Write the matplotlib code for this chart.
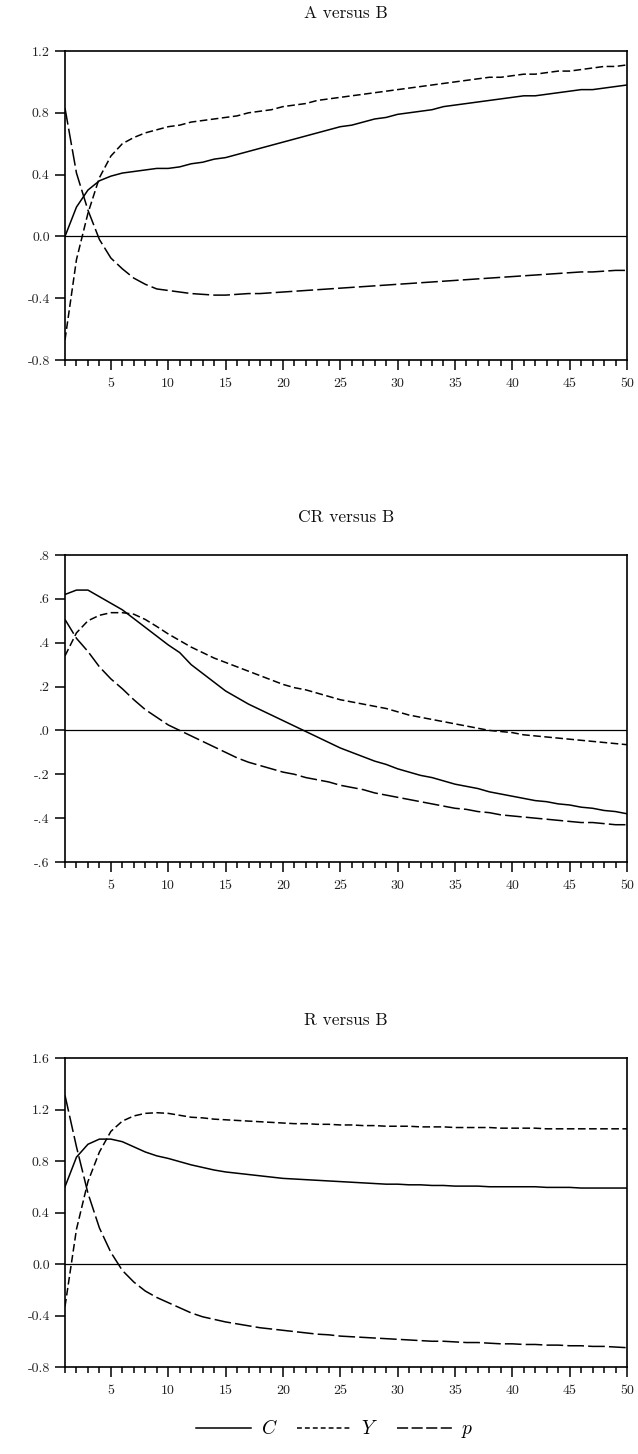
import matplotlib
matplotlib.use("Agg")
import matplotlib.pyplot as plt
from matplotlib.ticker import FixedLocator, MultipleLocator
from matplotlib.lines import Line2D

plt.rcParams['font.family'] = ['cmr10', 'DejaVu Serif']
plt.rcParams['mathtext.fontset'] = 'cm'
plt.rcParams['axes.unicode_minus'] = False
plt.rcParams['lines.scale_dashes'] = False

periods = list(range(1, 51))

titles = ["A versus B", "CR versus B", "R versus B"]

# Panel 1: A versus B
C1 = [0.00, 0.19, 0.30, 0.36, 0.39, 0.41, 0.42, 0.43, 0.44, 0.44,
      0.45, 0.47, 0.48, 0.50, 0.51, 0.53, 0.55, 0.57, 0.59, 0.61,
      0.63, 0.65, 0.67, 0.69, 0.71, 0.72, 0.74, 0.76, 0.77, 0.79,
      0.80, 0.81, 0.82, 0.84, 0.85, 0.86, 0.87, 0.88, 0.89, 0.90,
      0.91, 0.91, 0.92, 0.93, 0.94, 0.95, 0.95, 0.96, 0.97, 0.98]
Y1 = [-0.67, -0.15, 0.15, 0.38, 0.52, 0.60, 0.64, 0.67, 0.69, 0.71,
      0.72, 0.74, 0.75, 0.76, 0.77, 0.78, 0.80, 0.81, 0.82, 0.84,
      0.85, 0.86, 0.88, 0.89, 0.90, 0.91, 0.92, 0.93, 0.94, 0.95,
      0.96, 0.97, 0.98, 0.99, 1.00, 1.01, 1.02, 1.03, 1.03, 1.04,
      1.05, 1.05, 1.06, 1.07, 1.07, 1.08, 1.09, 1.10, 1.10, 1.11]
p1 = [0.83, 0.41, 0.17, -0.02, -0.14, -0.21, -0.27, -0.31, -0.34, -0.35,
      -0.36, -0.37, -0.375, -0.38, -0.38, -0.375, -0.37, -0.37, -0.365, -0.36,
      -0.355, -0.35, -0.345, -0.34, -0.335, -0.33, -0.325, -0.32, -0.315, -0.31,
      -0.305, -0.30, -0.295, -0.29, -0.285, -0.28, -0.275, -0.27, -0.265, -0.26,
      -0.255, -0.25, -0.245, -0.24, -0.235, -0.23, -0.23, -0.225, -0.22, -0.22]

# Panel 2: CR versus B
C2 = [0.62, 0.64, 0.64, 0.61, 0.58, 0.55, 0.51, 0.47, 0.43, 0.39,
      0.355, 0.30, 0.26, 0.22, 0.18, 0.15, 0.12, 0.095, 0.07, 0.045,
      0.02, -0.005, -0.03, -0.055, -0.08, -0.10, -0.12, -0.14, -0.155, -0.175,
      -0.19, -0.205, -0.215, -0.23, -0.245, -0.255, -0.265, -0.28, -0.29, -0.30,
      -0.31, -0.32, -0.325, -0.335, -0.34, -0.35, -0.355, -0.365, -0.37, -0.38]
Y2 = [0.34, 0.445, 0.50, 0.525, 0.537, 0.537, 0.53, 0.506, 0.474, 0.44,
      0.41, 0.38, 0.355, 0.33, 0.31, 0.29, 0.27, 0.25, 0.23, 0.21,
      0.195, 0.185, 0.17, 0.155, 0.14, 0.13, 0.12, 0.11, 0.10, 0.085,
      0.07, 0.06, 0.05, 0.04, 0.03, 0.02, 0.01, 0.0, -0.005, -0.01,
      -0.02, -0.025, -0.03, -0.035, -0.04, -0.045, -0.05, -0.055, -0.06, -0.065]
p2 = [0.506, 0.42, 0.36, 0.29, 0.235, 0.19, 0.14, 0.095, 0.06, 0.025,
      0.0, -0.025, -0.05, -0.075, -0.10, -0.125, -0.145, -0.16, -0.175, -0.19,
      -0.20, -0.215, -0.225, -0.235, -0.25, -0.26, -0.27, -0.285, -0.295, -0.305,
      -0.315, -0.325, -0.335, -0.345, -0.355, -0.36, -0.37, -0.375, -0.385, -0.39,
      -0.395, -0.40, -0.405, -0.41, -0.415, -0.42, -0.42, -0.425, -0.43, -0.43]

# Panel 3: R versus B
C3 = [0.60, 0.83, 0.93, 0.97, 0.97, 0.95, 0.91, 0.87, 0.84, 0.82,
      0.795, 0.77, 0.75, 0.73, 0.715, 0.705, 0.695, 0.685, 0.675, 0.665,
      0.66, 0.655, 0.65, 0.645, 0.64, 0.635, 0.63, 0.625, 0.62, 0.62,
      0.615, 0.615, 0.61, 0.61, 0.605, 0.605, 0.605, 0.60, 0.60, 0.60,
      0.60, 0.60, 0.595, 0.595, 0.595, 0.59, 0.59, 0.59, 0.59, 0.59]
Y3 = [-0.33, 0.27, 0.64, 0.87, 1.03, 1.11, 1.15, 1.17, 1.175, 1.17,
      1.155, 1.14, 1.135, 1.125, 1.12, 1.115, 1.11, 1.105, 1.10, 1.095,
      1.09, 1.09, 1.085, 1.085, 1.08, 1.08, 1.075, 1.075, 1.07, 1.07,
      1.07, 1.065, 1.065, 1.065, 1.06, 1.06, 1.06, 1.06, 1.055, 1.055,
      1.055, 1.055, 1.05, 1.05, 1.05, 1.05, 1.05, 1.05, 1.05, 1.05]
p3 = [1.31, 0.91, 0.55, 0.28, 0.09, -0.05, -0.14, -0.21, -0.26, -0.30,
      -0.34, -0.38, -0.41, -0.43, -0.45, -0.465, -0.48, -0.495, -0.505, -0.515,
      -0.525, -0.535, -0.545, -0.55, -0.56, -0.565, -0.57, -0.575, -0.58, -0.585,
      -0.59, -0.595, -0.60, -0.60, -0.605, -0.61, -0.61, -0.615, -0.62, -0.62,
      -0.625, -0.625, -0.63, -0.63, -0.635, -0.635, -0.64, -0.64, -0.645, -0.65]

yticks1 = [-0.8, -0.4, 0.0, 0.4, 0.8, 1.2]
ylabels1 = ["-0.8", "-0.4", "0.0", "0.4", "0.8", "1.2"]
yticks2 = [-0.6, -0.4, -0.2, 0.0, 0.2, 0.4, 0.6, 0.8]
ylabels2 = ["-.6", "-.4", "-.2", ".0", ".2", ".4", ".6", ".8"]
yticks3 = [-0.8, -0.4, 0.0, 0.4, 0.8, 1.2, 1.6]
ylabels3 = ["-0.8", "-0.4", "0.0", "0.4", "0.8", "1.2", "1.6"]
xticks = [5, 10, 15, 20, 25, 30, 35, 40, 45, 50]
xlabels = ["5", "10", "15", "20", "25", "30", "35", "40", "45", "50"]

series_names = ["C", "Y", "p"]
panels = [(C1, Y1, p1, yticks1, ylabels1),
          (C2, Y2, p2, yticks2, ylabels2),
          (C3, Y3, p3, yticks3, ylabels3)]

styles = [dict(linestyle='-'),
          dict(linestyle=(0, (5.5, 2.5))),
          dict(linestyle=(0, (12, 3)))]

fig = plt.figure(figsize=(6.38, 14.54), dpi=100)
W, H = 638.0, 1454.0
left_px, right_px = 65, 627
boxes = [(51, 360), (555, 862), (1058, 1367)]

lw = 1.1
for (top, bot), (c, y, p, yt, yl), title in zip(boxes, panels, titles):
    ax = fig.add_axes([left_px / W, 1 - bot / H, (right_px - left_px) / W, (bot - top) / H])
    for data, st in zip((c, y, p), styles):
        ax.plot(periods, data, color='black', linewidth=lw, **st)
    ax.axhline(0, color='black', linewidth=0.9)
    ax.set_xlim(1, 50)
    ax.set_ylim(yt[0], yt[-1])
    ax.set_yticks(yt)
    ax.set_yticklabels(yl)
    ax.xaxis.set_major_locator(FixedLocator(xticks))
    ax.set_xticklabels(xlabels)
    ax.xaxis.set_minor_locator(MultipleLocator(1))
    ax.tick_params(axis='both', which='major', direction='out', length=7, width=1.1,
                   labelsize=10, color='black', labelcolor='#222222', pad=4)
    ax.tick_params(axis='x', which='minor', direction='out', length=4, width=1.1)
    ax.tick_params(axis='x', which='major', length=7, pad=6)
    for s in ax.spines.values():
        s.set_linewidth(1.2)
    ax.set_title(title, fontsize=12.5, pad=24, color='#111111')

handles = [Line2D([], [], color='black', linewidth=lw, linestyle='-'),
           Line2D([], [], color='black', linewidth=lw, linestyle=(0, (3.5, 2.2))),
           Line2D([], [], color='black', linewidth=lw, linestyle=(0, (8, 2.5)))]
labels = [r"$C$", r"$Y$", r"$p$"]
fig.legend(handles, labels, loc='center', bbox_to_anchor=(0.525, 1 - 1430 / H), ncol=3,
           frameon=False, fontsize=14, handlelength=2.8, columnspacing=1.0, handletextpad=0.5)

fig.savefig("out.png", dpi=100)
